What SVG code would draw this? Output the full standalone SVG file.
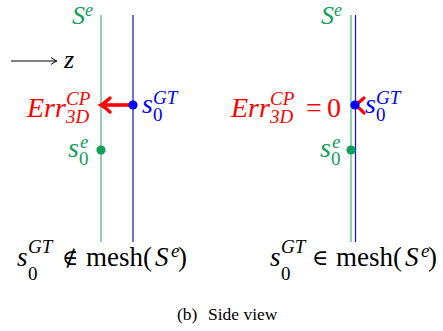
<svg xmlns="http://www.w3.org/2000/svg" width="443" height="331" viewBox="0 0 443 331">
<style>
text{font-family:"Liberation Serif","DejaVu Serif",serif}
.i{font-style:italic}
.big{font-size:28px}
.sc{font-size:19px}
.bot{font-size:27px}
.rel{font-family:"DejaVu Serif","Liberation Serif",serif;font-size:22px}
.g{fill:#11a05a}
.b{fill:#0000ff}
.r{fill:#ff0000}
.k{fill:#000}
.gl{stroke:#45b582;stroke-width:1.2;fill:none}
.bl{stroke:#1010e0;stroke-width:1.2;fill:none}
</style>
<rect width="443" height="331" fill="#fff"/>
<g id="axis">
<line x1="11" y1="61" x2="56" y2="61" stroke="#000" stroke-width="1"/>
<path d="M51,57.5 Q54,60 57,61 Q54,62 51,64.5" fill="none" stroke="#000" stroke-width="1"/>
<text x="64" y="68" class="i k" font-size="26">z</text>
</g>
<g id="connectors">
<line class="gl" x1="101" y1="15" x2="101" y2="242"/>
<line class="bl" x1="133" y1="15" x2="133" y2="242"/>
<line class="gl" x1="351" y1="15" x2="351" y2="242"/>
<line class="bl" x1="355.5" y1="15" x2="355.5" y2="242"/>
<line x1="133" y1="105" x2="104" y2="105" stroke="#ff0000" stroke-width="3.6"/>
<path d="M110,98 Q104,103.5 101,105 Q104,106.5 110,112" fill="none" stroke="#ff0000" stroke-width="3.4" stroke-linecap="round"/>
<path d="M364,98 Q358,103.5 355,105 Q358,106.5 364,113" fill="none" stroke="#ff0000" stroke-width="3.2" stroke-linecap="round"/>
</g>
<g id="left-Se">
<text x="72" y="24" class="i g" font-size="26">S</text>
<text x="85" y="16" class="i g" font-size="18">e</text>
</g>
<g id="left-err">
<text x="27" y="117" class="i r big">Err</text>
<text x="66" y="105" class="i r sc">CP</text>
<text x="66" y="123" class="i r sc">3D</text>
</g>
<g id="left-s0GT">
<circle cx="133" cy="105" r="4.6" fill="#0000ff"/>
<text x="142" y="113" class="i b big">s</text>
<text x="153" y="104" class="i b sc">GT</text>
<text x="153" y="121" class="b sc">0</text>
</g>
<g id="left-s0e">
<circle cx="101" cy="150" r="4.6" fill="#11a05a"/>
<text x="68" y="157" class="i g big">s</text>
<text x="80" y="148" class="i g sc">e</text>
<text x="79" y="165" class="g sc">0</text>
</g>
<g id="right-Se">
<text x="321" y="24" class="i g" font-size="26">S</text>
<text x="334" y="16" class="i g" font-size="18">e</text>
</g>
<g id="right-err">
<text x="231" y="117" class="i r big">Err</text>
<text x="270" y="105" class="i r sc">CP</text>
<text x="270" y="123" class="i r sc">3D</text>
<text x="306" y="117" class="r big">=</text>
<text x="327" y="117" class="r big">0</text>
</g>
<g id="right-s0GT">
<circle cx="355" cy="105" r="4.6" fill="#0000ff"/>
<text x="365" y="113" class="i b big">s</text>
<text x="376" y="104" class="i b sc">GT</text>
<text x="376" y="121" class="b sc">0</text>
</g>
<g id="right-s0e">
<circle cx="351" cy="150" r="4.6" fill="#11a05a"/>
<text x="320" y="157" class="i g big">s</text>
<text x="332" y="148" class="i g sc">e</text>
<text x="331" y="165" class="g sc">0</text>
</g>
<g id="left-caption">
<text x="17" y="266" class="i k bot">s</text>
<text x="28" y="253" class="i k sc">GT</text>
<text x="28" y="280" class="k sc">0</text>
<text x="62" y="265" class="k rel">∉</text>
<text x="86" y="266" class="k bot">mesh(</text>
<text x="155" y="266" class="i k bot">S</text>
<text x="171" y="257" class="i k sc">e</text>
<text x="178" y="266" class="k bot">)</text>
</g>
<g id="right-caption">
<text x="270" y="266" class="i k bot">s</text>
<text x="281" y="253" class="i k sc">GT</text>
<text x="281" y="280" class="k sc">0</text>
<text x="312" y="265" class="k rel">∈</text>
<text x="336" y="266" class="k bot">mesh(</text>
<text x="405" y="266" class="i k bot">S</text>
<text x="421" y="257" class="i k sc">e</text>
<text x="428" y="266" class="k bot">)</text>
</g>
<g id="subcaption">
<text x="177" y="320" class="k" font-size="17.5">(b)</text>
<text x="208" y="320" class="k" font-size="17.5">Side view</text>
</g>
</svg>
